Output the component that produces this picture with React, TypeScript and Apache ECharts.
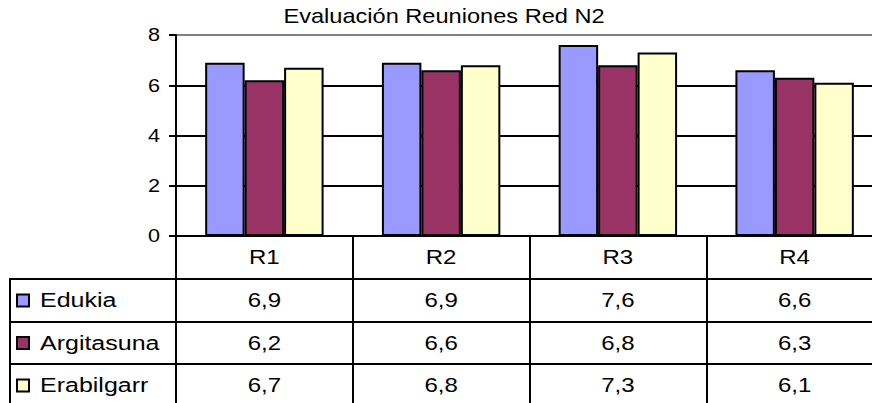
import React, { useEffect, useRef } from "react";
import * as echarts from "echarts";

const titleText = "Evaluación Reuniones Red N2";
const categories = ["R1", "R2", "R3", "R4"];
const seriesNames = ["Edukia", "Argitasuna", "Erabilgarr"];
const edukia = [6.9, 6.9, 7.6, 6.6];
const argitasuna = [6.2, 6.6, 6.8, 6.3];
const erabilgarr = [6.7, 6.8, 7.3, 6.1];
const yTicks = [0, 2, 4, 6, 8];

const seriesValues = [edukia, argitasuna, erabilgarr];
const colors = ["#9999FF", "#993366", "#FFFFCC"];

const FONT = "'Liberation Sans', Arial, sans-serif";

export default function App() {
  const ref = useRef<HTMLDivElement>(null);
  useEffect(() => {
    if (!ref.current) return;
    const chart = echarts.init(ref.current, null, { renderer: "svg" });
    const grid = { left: 176, top: 35, width: 707, height: 201 };
    chart.setOption({
      animation: false,
      grid: { ...grid, containLabel: false },
      xAxis: {
        type: "category",
        data: categories,
        boundaryGap: true,
        axisLine: { show: true, lineStyle: { color: "#000", width: 2 } },
        axisTick: { show: true, length: 170, lineStyle: { color: "#000", width: 2 } },
        axisLabel: { show: false },
        splitLine: { show: false },
      },
      yAxis: {
        type: "value",
        min: 0,
        max: 8,
        interval: 2,
        axisLine: { show: true, lineStyle: { color: "#000", width: 2 } },
        axisTick: { show: true, length: 7, lineStyle: { color: "#000", width: 2 } },
        axisLabel: { show: false },
        splitLine: {
          show: true,
          lineStyle: { color: ["#000", "#000", "#000", "#000", "#808080"], width: 2 },
        },
      },
      series: seriesNames.map((name, i) => ({
        name,
        type: "bar",
        data: seriesValues[i],
        barGap: "0%",
        barCategoryGap: "33%",
        itemStyle: { color: colors[i], borderColor: "#000", borderWidth: 2 },
      })),
    });

    const cx = categories.map((c) => chart.convertToPixel({ xAxisIndex: 0 }, c) as number);
    const ty = yTicks.map((v) => chart.convertToPixel({ yAxisIndex: 0 }, v) as number);

    const txt = (text: string, x: number, y: number, align: string, size: number, sx: number) => ({
      type: "text",
      x,
      y,
      scaleX: sx,
      silent: true,
      style: {
        text,
        fill: "#000",
        fontSize: size,
        fontFamily: FONT,
        textAlign: align,
        textVerticalAlign: "middle",
        align,
        verticalAlign: "middle",
      },
    });

    const rowLines = [279, 322, 364];
    const rowCenters = [300.5, 343, 385.5];
    const headerCenter = 257.5;

    const graphic: any[] = [];
    graphic.push(txt(titleText, 444, 16, "center", 20, 1.18));
    yTicks.forEach((v, i) => graphic.push(txt(String(v), 160, ty[i], "right", 18, 1.2)));
    categories.forEach((c, i) => graphic.push(txt(c, cx[i], headerCenter, "center", 20, 1.2)));
    rowLines.forEach((y) =>
      graphic.push({
        type: "line",
        silent: true,
        shape: { x1: 10, y1: y, x2: 900, y2: y },
        style: { stroke: "#000", lineWidth: 2 },
      })
    );
    graphic.push({
      type: "line",
      silent: true,
      shape: { x1: 10, y1: 278, x2: 10, y2: 410 },
      style: { stroke: "#000", lineWidth: 2 },
    });
    seriesNames.forEach((name, r) => {
      const y = rowCenters[r];
      graphic.push({
        type: "rect",
        silent: true,
        shape: { x: 17, y: y - 6, width: 12, height: 12 },
        style: { fill: colors[r], stroke: "#000", lineWidth: 2 },
      });
      graphic.push(txt(name, 40, y, "left", 20, 1.25));
      seriesValues[r].forEach((v, i) =>
        graphic.push(txt(v.toFixed(1).replace(".", ","), cx[i], y, "center", 20, 1.2))
      );
    });
    chart.setOption({ graphic });

    return () => chart.dispose();
  }, []);
  return (
    <div
      style={{
        position: "fixed",
        left: 0,
        top: 0,
        width: 872,
        height: 403,
        overflow: "hidden",
        background: "#fff",
      }}
    >
      <div ref={ref} style={{ width: 900, height: 403 }} />
    </div>
  );
}
